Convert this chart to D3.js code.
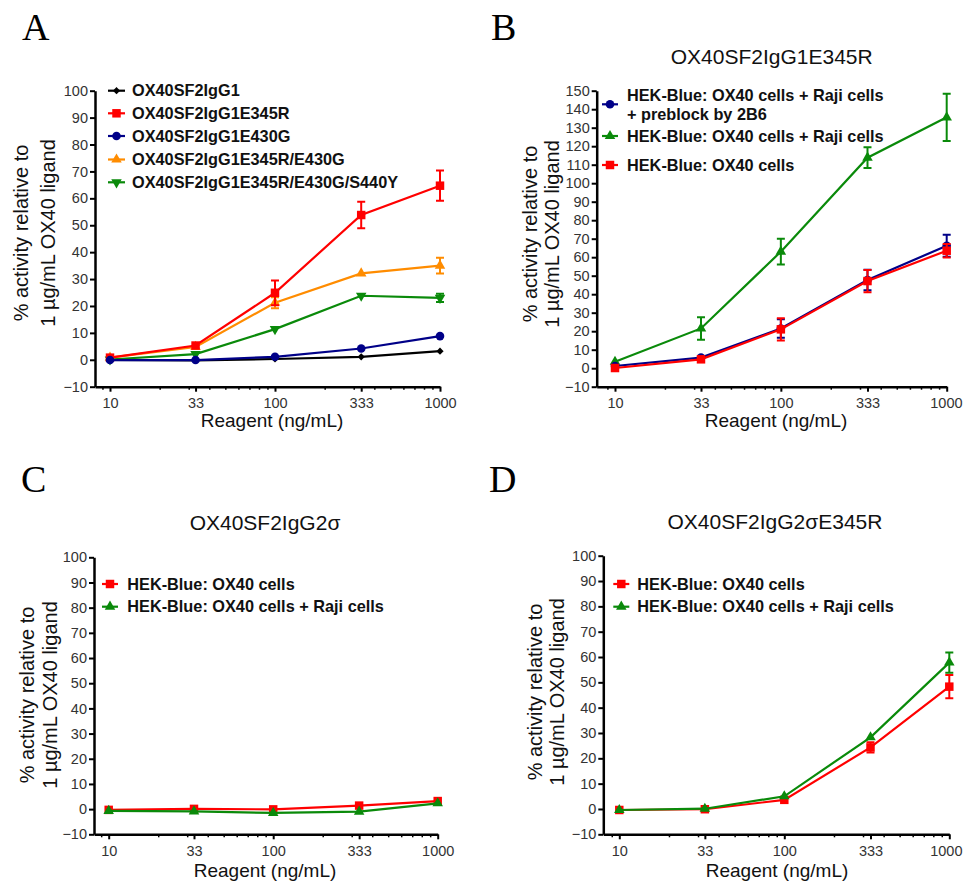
<!DOCTYPE html>
<html>
<head>
<meta charset="utf-8">
<script src="https://cdn.jsdelivr.net/npm/d3@7"></script>
<style>
  body { margin: 0; background: #fff; }
  text { font-family: 'Liberation Sans', Arial, sans-serif; }
</style>
</head>
<body>
<div id="chart"></div>
<script>
// doses on the x axis
const doses = [10, 33, 100, 333, 1000]
const doseLabels = ['10', '33', '100', '333', '1000']
const minorDoses = [9, 20, 30, 40, 50, 60, 70, 80, 90, 200, 300, 400, 500, 600, 700, 800, 900]

// panel A
const aNames = ['OX40SF2IgG1', 'OX40SF2IgG1E345R', 'OX40SF2IgG1E430G', 'OX40SF2IgG1E345R/E430G', 'OX40SF2IgG1E345R/E430G/S440Y']
const aIgG1 = [0, -0.2, 0.3, 1.1, 3.2]
const aIgG1Err = [0.2, 0.2, 0.2, 0.3, 0.4]
const aE345R = [0.8, 5.3, 24.9, 53.8, 64.7]
const aE345RErr = [0.5, 1.0, 4.6, 4.9, 5.6]
const aE430G = [-0.1, -0.1, 1.1, 4.2, 8.8]
const aE430GErr = [0.3, 0.3, 0.5, 0.5, 0.8]
const aE345RE430G = [0.8, 4.8, 21.2, 32.1, 35]
const aE345RE430GErr = [0.3, 0.8, 2, 0.8, 2.9]
const aTriple = [0.1, 2.1, 11.4, 23.8, 23]
const aTripleErr = [0.3, 0.4, 0.8, 0.8, 1.5]

// panel B
const bPreblock = [1.2, 5.7, 21.5, 47.7, 66.2]
const bPreblockErr = [0.5, 1, 5, 5.5, 6]
const bRaji = [3.5, 21.5, 63, 113.8, 135.6]
const bRajiErr = [1, 6.1, 7, 5.6, 12.8]
const bOX40 = [0.1, 4.8, 21, 47.1, 63.5]
const bOX40Err = [0.8, 1.2, 6, 6, 3.7]

// panel C
const cOX40 = [-0.3, 0.1, -0.1, 1.4, 3.2]
const cOX40Err = [0.6, 0.6, 0.6, 0.8, 0.8]
const cRaji = [-0.7, -0.9, -1.5, -1, 2.3]
const cRajiErr = [0.3, 0.3, 0.3, 0.4, 0.6]

// panel D
const dOX40 = [-0.4, -0.1, 3.6, 24.3, 48.3]
const dOX40Err = [0.5, 0.5, 0.8, 2, 4.6]
const dRaji = [-0.4, 0.1, 5, 28.3, 57.8]
const dRajiErr = [0.3, 0.3, 0.5, 1, 4]

const legendOX40 = 'HEK-Blue: OX40 cells'
const legendRaji = 'HEK-Blue: OX40 cells + Raji cells'

const red = '#ff0000'
const green = '#0a8a0a'
const blue = '#000088'
const orange = '#ff8c00'

const svg = d3
  .select('#chart')
  .append('svg')
  .attr('width', 964)
  .attr('height', 881)

const panels = [
  {
    letter: 'A', lx: 22, ly: 40,
    axisX: 95, x0: 110, x1: 440, yTop: 90.7, yBottom: 386.7, yMax: 100,
    yTitle: [20.7, 47.5, 233], xTitle: [272, 420], tickY: 400,
    legend: { mx0: 108, mx1: 125, tx: 132, ys: [90.7, 113.3, 136, 159.5, 182.3] },
    series: [
      { name: aNames[0], values: aIgG1, err: aIgG1Err, color: '#000', shape: 'diamond', z: 0 },
      { name: aNames[1], values: aE345R, err: aE345RErr, color: red, shape: 'square', z: 3 },
      { name: aNames[2], values: aE430G, err: aE430GErr, color: blue, shape: 'circle', z: 4 },
      { name: aNames[3], values: aE345RE430G, err: aE345RE430GErr, color: orange, shape: 'triangle', z: 2 },
      { name: aNames[4], values: aTriple, err: aTripleErr, color: green, shape: 'triangleDown', z: 1 }
    ]
  },
  {
    letter: 'B', lx: 491, ly: 40, title: 'OX40SF2IgG1E345R', titleX: 771.7, titleY: 57,
    axisX: 596.7, x0: 615, x1: 946.7, yTop: 90.7, yBottom: 386.7, yMax: 150,
    yTitle: [530, 552, 234], xTitle: [776, 420], tickY: 400,
    legend: { mx0: 602, mx1: 618, tx: 627, ys: [104.3, 136, 165], lines: [[95, 114.3]] },
    series: [
      { name: ['HEK-Blue: OX40 cells + Raji cells', '+ preblock by 2B6'], values: bPreblock, err: bPreblockErr, color: blue, shape: 'circle', z: 1 },
      { name: legendRaji, values: bRaji, err: bRajiErr, color: green, shape: 'triangle', z: 0 },
      { name: legendOX40, values: bOX40, err: bOX40Err, color: red, shape: 'square', z: 2 }
    ]
  },
  {
    letter: 'C', lx: 21, ly: 491.7, title: 'OX40SF2IgG2\u03c3', titleX: 265, titleY: 523,
    axisX: 94, x0: 108.7, x1: 437.7, yTop: 557.3, yBottom: 834.3, yMax: 100,
    yTitle: [26.7, 50, 695], xTitle: [265, 870], tickY: 848,
    legend: { mx0: 102, mx1: 118, tx: 127.3, ys: [584, 606.7] },
    series: [
      { name: legendOX40, values: cOX40, err: cOX40Err, color: red, shape: 'square', z: 0 },
      { name: legendRaji, values: cRaji, err: cRajiErr, color: green, shape: 'triangle', z: 1 }
    ]
  },
  {
    letter: 'D', lx: 489, ly: 491.7, title: 'OX40SF2IgG2\u03c3E345R', titleX: 775, titleY: 521.7,
    axisX: 603.3, x0: 619.3, x1: 949.3, yTop: 555.7, yBottom: 834.3, yMax: 100,
    yTitle: [535, 557, 692], xTitle: [777, 870], tickY: 848,
    legend: { mx0: 613.3, mx1: 629.3, tx: 637.3, ys: [584, 606.7] },
    series: [
      { name: legendOX40, values: dOX40, err: dOX40Err, color: red, shape: 'square', z: 0 },
      { name: legendRaji, values: dRaji, err: dRajiErr, color: green, shape: 'triangle', z: 1 }
    ]
  }
]

const shapes = {
  square: { type: d3.symbolSquare, size: 72, rotate: 0 },
  circle: { type: d3.symbolCircle, size: 58, rotate: 0 },
  triangle: { type: d3.symbolTriangle, size: 48, rotate: 0 },
  triangleDown: { type: d3.symbolTriangle, size: 48, rotate: 180 },
  diamond: { type: d3.symbolSquare, size: 26, rotate: 45 }
}

function marker(g, shape, color, x, y) {
  const s = shapes[shape]
  g.append('path')
    .attr('d', d3.symbol().type(s.type).size(s.size)())
    .attr('fill', color)
    .attr('transform', `translate(${x},${y}) rotate(${s.rotate})`)
}

panels.forEach(p => {
  const g = svg.append('g')

  const x = d3.scaleLog().domain([10, 1000]).range([p.x0, p.x1])
  const y = d3.scaleLinear().domain([-10, p.yMax]).range([p.yBottom, p.yTop])

  // panel letter
  g.append('text')
    .text(p.letter)
    .attr('x', p.lx)
    .attr('y', p.ly)
    .style('font-family', "'Liberation Serif', 'Times New Roman', serif")
    .style('font-size', '38px')

  if (p.title) {
    g.append('text')
      .text(p.title)
      .attr('x', p.titleX)
      .attr('y', p.titleY)
      .attr('dy', '0.35em')
      .attr('text-anchor', 'middle')
      .style('font-size', '21px')
      .attr('fill', '#111')
  }

  // y axis
  const yAxis = g.append('g')
    .attr('transform', `translate(${p.axisX},0)`)
    .call(d3.axisLeft(y).tickValues(d3.range(-10, p.yMax + 1, 10)).tickSize(5).tickSizeOuter(0).tickPadding(2))
  yAxis.select('.domain').attr('stroke', '#000').attr('stroke-width', 2.5)
  yAxis.selectAll('.tick line').attr('stroke', '#000').attr('stroke-width', 2)
  yAxis.selectAll('.tick text')
    .style('font-size', '14.5px')
    .style('font-family', "'Liberation Sans', Arial, sans-serif")
    .attr('fill', '#333')

  // x axis, starting at the y axis
  const xAxisScale = x.copy().domain([x.invert(p.axisX), 1000]).range([p.axisX, p.x1])
  const xAxis = g.append('g')
    .attr('transform', `translate(0,${p.yBottom})`)
    .call(d3.axisBottom(xAxisScale).tickValues(doses).tickFormat((d, i) => doseLabels[i]).tickSize(5).tickSizeOuter(0).tickPadding(6))
  xAxis.select('.domain').attr('stroke', '#000').attr('stroke-width', 2.5)
  xAxis.selectAll('.tick line').attr('stroke', '#000').attr('stroke-width', 2)
  xAxis.selectAll('.tick text')
    .style('font-size', '14.5px')
    .style('font-family', "'Liberation Sans', Arial, sans-serif")
    .attr('fill', '#333')
    .each(function (d) {
      // keep the last label inside the page
      const right = xAxisScale(d) + this.getComputedTextLength() / 2
      if (right > 962) d3.select(this).attr('x', 962 - right)
    })

  const minor = g.append('g')
    .attr('transform', `translate(0,${p.yBottom})`)
    .call(d3.axisBottom(xAxisScale).tickValues(minorDoses).tickFormat('').tickSize(3).tickSizeOuter(0))
  minor.select('.domain').remove()
  minor.selectAll('.tick line').attr('stroke', '#000').attr('stroke-width', 1.5)

  // axis titles
  const yt = g.append('text')
    .attr('transform', `translate(0,${p.yTitle[2]}) rotate(-90)`)
    .attr('text-anchor', 'middle')
    .style('font-size', '20px')
    .attr('fill', '#111')
  yt.append('tspan').attr('x', 0).attr('y', p.yTitle[0]).attr('dy', '0.35em').text('% activity relative to')
  yt.append('tspan').attr('x', 0).attr('y', p.yTitle[1]).attr('dy', '0.35em').text('1 \u00b5g/mL OX40 ligand')

  g.append('text')
    .text('Reagent (ng/mL)')
    .attr('x', p.xTitle[0])
    .attr('y', p.xTitle[1])
    .attr('dy', '0.35em')
    .attr('text-anchor', 'middle')
    .style('font-size', '19px')
    .attr('fill', '#111')

  // series
  const line = d3.line()
    .x((d, i) => x(doses[i]))
    .y(d => y(d))

  const ordered = p.series.slice().sort((a, b) => a.z - b.z)
  ordered.forEach(s => {
    const sg = g.append('g')
    sg.append('path')
      .datum(s.values)
      .attr('d', line)
      .attr('fill', 'none')
      .attr('stroke', s.color)
      .attr('stroke-width', 2.2)

    s.values.forEach((v, i) => {
      const cx = x(doses[i])
      const e = s.err[i]
      if (y(v - e) - y(v + e) > 6) {
        sg.append('path')
          .attr('d', `M${cx - 4},${y(v + e)}H${cx + 4}M${cx},${y(v + e)}V${y(v - e)}M${cx - 4},${y(v - e)}H${cx + 4}`)
          .attr('stroke', s.color)
          .attr('stroke-width', 2)
          .attr('fill', 'none')
      }
      marker(sg, s.shape, s.color, cx, y(v))
    })
  })

  // legend
  const lg = p.legend
  p.series.forEach((s, i) => {
    const ly = lg.ys[i]
    g.append('line')
      .attr('x1', lg.mx0).attr('x2', lg.mx1)
      .attr('y1', ly).attr('y2', ly)
      .attr('stroke', s.color)
      .attr('stroke-width', 2.2)
    marker(g, s.shape, s.color, (lg.mx0 + lg.mx1) / 2, ly)

    const names = Array.isArray(s.name) ? s.name : [s.name]
    const ys = names.length > 1 ? lg.lines[i] : [ly]
    names.forEach((n, j) => {
      g.append('text')
        .text(n)
        .attr('x', lg.tx)
        .attr('y', ys[j])
        .attr('dy', '0.35em')
        .style('font-size', '16.3px')
        .style('font-weight', 'bold')
        .attr('fill', '#111')
    })
  })
})
</script>
</body>
</html>
